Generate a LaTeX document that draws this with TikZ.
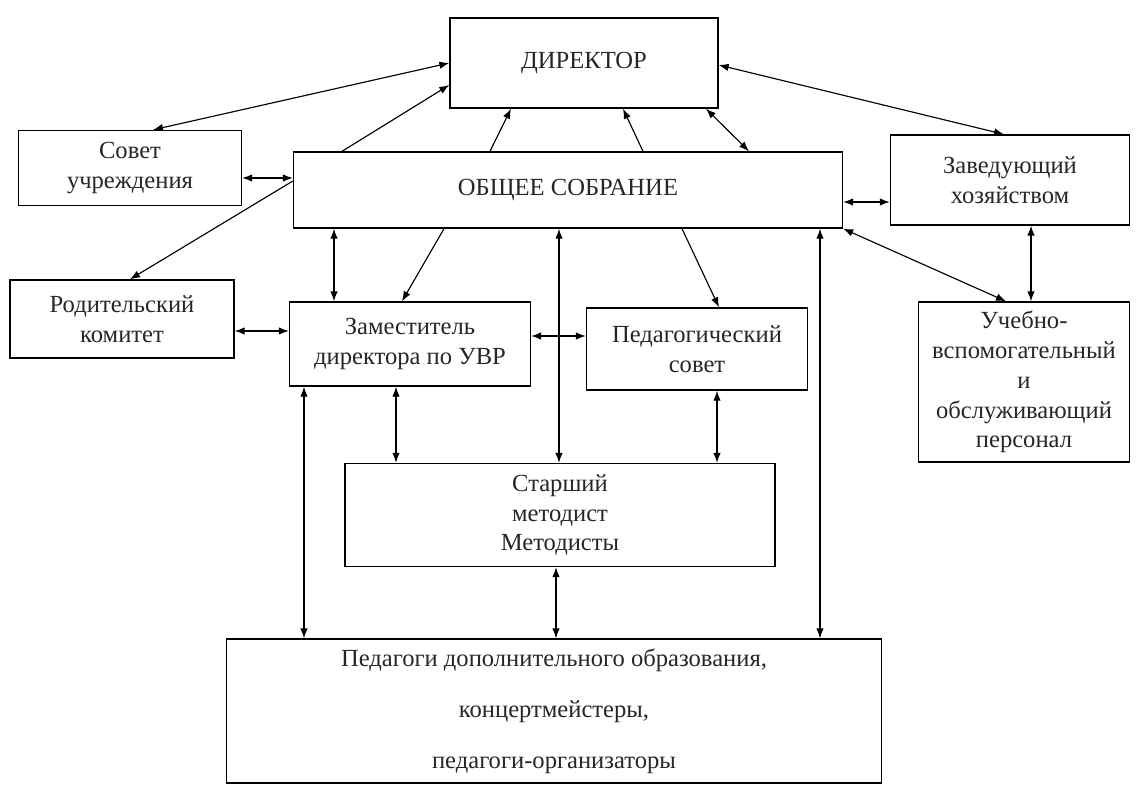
\documentclass[tikz,border=0pt]{standalone}
\usepackage{fontspec}
\setmainfont{Liberation Serif}
\usetikzlibrary{arrows.meta}
\begin{document}
\begin{tikzpicture}[x=0.02cm,y=-0.02cm,
  font=\fontsize{14}{17}\selectfont,
  box/.style={draw,line width=0.8pt,align=center,inner sep=2pt,text=black!85},
  link/.style={line width=0.65pt,{Latex[length=2mm,width=1.5mm]}-{Latex[length=2mm,width=1.5mm]}},
  onelink/.style={line width=0.65pt,-{Latex[length=2mm,width=1.5mm]}}]
\useasboundingbox (0,0) rectangle (1140,789);
% boxes
\node[box,minimum width=5.36cm,minimum height=1.8cm] (dir) at (584,63) {ДИРЕКТОР};
\node[box,minimum width=4.46cm,minimum height=1.5cm] (sovet) at (130,168) {Совет\\учреждения};
\node[box,minimum width=10.98cm,minimum height=1.52cm] (obsh) at (568,190) {ОБЩЕЕ СОБРАНИЕ};
\node[box,minimum width=4.78cm,minimum height=1.8cm] (zav) at (1010,180) {Заведующий\\хозяйством};
\node[box,minimum width=4.48cm,minimum height=1.56cm] (rod) at (122,319) {Родительский\\комитет};
\node[box,minimum width=4.82cm,minimum height=1.68cm] (zam) at (410,344) {Заместитель\\директора по УВР};
\node[box,minimum width=4.42cm,minimum height=1.64cm] (ped) at (697,349) {Педагогический\\совет};
\node[box,minimum width=4.22cm,minimum height=3.2cm] (ucheb) at (1024,382) {Учебно-\\вспомогательный\\и\\обслуживающий\\персонал};
\node[box,minimum width=8.6cm,minimum height=2.06cm] (star) at (560,515) {Старший\\методист\\Методисты};
\node[box,minimum width=13.1cm,minimum height=2.88cm] (pedag) at (554,711) {Педагоги дополнительного образования,\\[12pt]концертмейстеры,\\[12pt]педагоги-организаторы};
% vertical two-way links
\foreach \x/\a/\b in {334/obsh/zam, 559/obsh/star, 820/obsh/pedag, 1031/zav/ucheb,
  396/zam/star, 717/ped/star, 304/zam/pedag, 556/star/pedag} {
  \draw[link] (\a.south -| \x,0) -- (\b.north -| \x,0);
}
% horizontal two-way links
\foreach \y/\a/\b in {178/sovet/obsh, 202/obsh/zav, 331/rod/zam, 336/zam/ped} {
  \draw[link] (\a.east |- 0,\y) -- (\b.west |- 0,\y);
}
% slanted links
\draw[link] (dir.west) -- (sovet.north -| 153,0);
\draw[onelink] (obsh.north -| 342,0) -- (dir.west |- 0,85);
\draw[onelink] (obsh.north -| 490,0) -- (dir.south -| 511,0);
\draw[onelink] (obsh.north -| 643,0) -- (dir.south -| 623,0);
\draw[link] (obsh.north -| 749,0) -- (dir.south -| 706,0);
\draw[link] (dir.east |- 0,65) -- (zav.north -| 1004,0);
\draw[onelink] (obsh.west |- 0,181) -- (rod.north -| 130,0);
\draw[onelink] (obsh.south -| 444,0) -- (zam.north -| 402,0);
\draw[onelink] (obsh.south -| 682,0) -- (ped.north -| 719,0);
\draw[link] (obsh.south east) -- (ucheb.north -| 1006,0);
\end{tikzpicture}
\end{document}
